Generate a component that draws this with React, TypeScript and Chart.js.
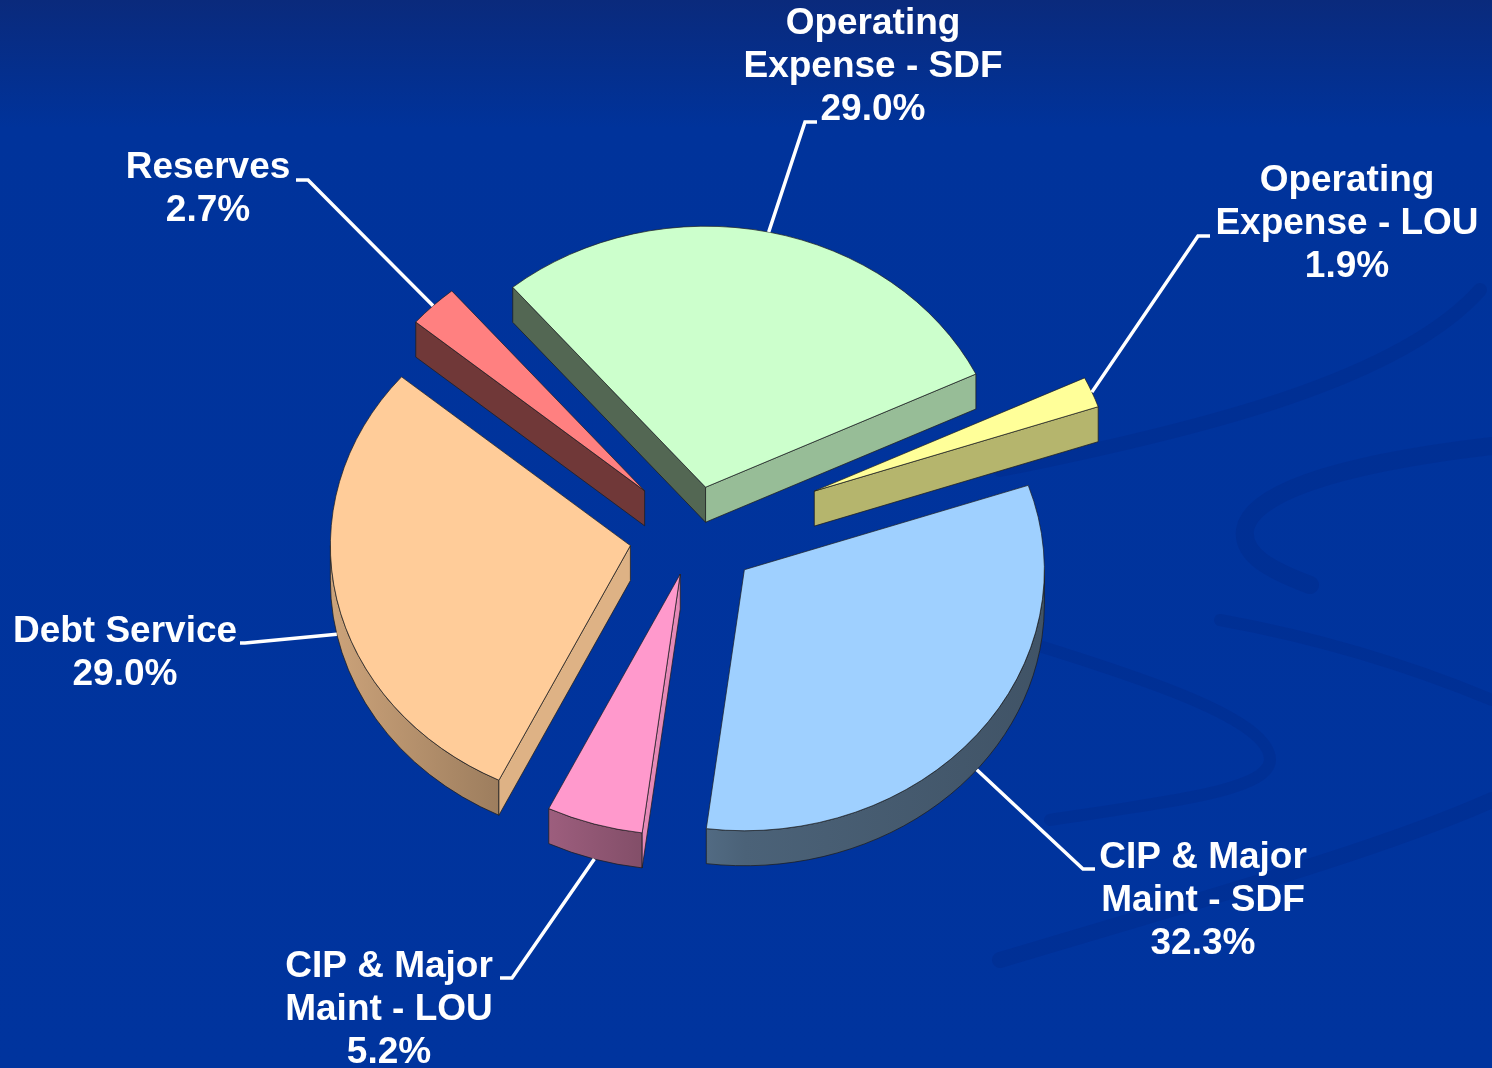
import React, { useEffect, useRef } from "react";
import { Chart, registerables } from "chart.js";

Chart.register(...registerables);

// ---------- data ----------
const categories = [
  "Operating Expense - SDF",
  "Operating Expense - LOU",
  "CIP & Major Maint - SDF",
  "CIP & Major Maint - LOU",
  "Debt Service",
  "Reserves",
];
const categoryLines = [
  ["Operating", "Expense - SDF"],
  ["Operating", "Expense - LOU"],
  ["CIP & Major", "Maint - SDF"],
  ["CIP & Major", "Maint - LOU"],
  ["Debt Service"],
  ["Reserves"],
];
const shares = [29.0, 1.9, 32.3, 5.2, 29.0, 2.7];
const sliceColors = ["#CCFFCC", "#FFFF99", "#9FD0FF", "#FF99CC", "#FFCC99", "#FF8080"];

// ---------- layout / style ----------
const WIDTH = 1492;
const HEIGHT = 1068;
const TILT = 0.87;
const DEPTH = 35;
const RADIUS = 300;
const ROTATION = -40;
const explode = [55, 130, 65, 48, 65, 70];
const LINE_H = 43;
const FONT = 'bold 37px "Liberation Sans", Arial, sans-serif';
const labelLayout = [
  { cx: 873, y: 24, elbow: [805, 122], end: [817, 122], fromSide: false },
  { cx: 1347, y: 181, elbow: [1198, 236], end: [1210, 236], fromSide: false },
  { cx: 1203, y: 858, elbow: [1083, 869], end: [1095, 869], fromSide: true },
  { cx: 389, y: 967, elbow: [512, 978], end: [500, 978], fromSide: true },
  { cx: 125, y: 632, elbow: [245, 643], end: [240, 643], fromSide: true },
  { cx: 208, y: 168, elbow: [308, 180], end: [296, 180], fromSide: false },
];

function hexToRgb(h: string) {
  const n = parseInt(h.slice(1), 16);
  return [(n >> 16) & 255, (n >> 8) & 255, n & 255];
}
function shade(hex: string, b: number) {
  const [r, g, bl] = hexToRgb(hex);
  const f = (v: number) => Math.max(0, Math.min(255, Math.round(v * b)));
  return `rgb(${f(r)},${f(g)},${f(bl)})`;
}

const pie3d = {
  id: "pie3d",
  beforeDraw(chart: any) {
    const ctx = chart.ctx as CanvasRenderingContext2D;
    ctx.save();
    const g = ctx.createLinearGradient(0, 0, 0, HEIGHT);
    g.addColorStop(0, "#0a2a7c");
    g.addColorStop(0.12, "#00339b");
    g.addColorStop(1, "#00349e");
    ctx.fillStyle = g;
    ctx.fillRect(0, 0, WIDTH, HEIGHT);
    // faint background swirls
    ctx.strokeStyle = "rgba(0,25,100,0.13)";
    ctx.lineCap = "round";
    ctx.lineWidth = 14;
    ctx.beginPath();
    ctx.moveTo(1000, 470);
    ctx.bezierCurveTo(1200, 430, 1400, 380, 1480, 290);
    ctx.stroke();
    ctx.lineWidth = 18;
    ctx.beginPath();
    ctx.moveTo(1492, 446);
    ctx.bezierCurveTo(1330, 465, 1250, 495, 1245, 530);
    ctx.bezierCurveTo(1242, 555, 1270, 570, 1310, 585);
    ctx.stroke();
    ctx.lineWidth = 12;
    ctx.beginPath();
    ctx.moveTo(1020, 640);
    ctx.bezierCurveTo(1150, 680, 1270, 720, 1270, 760);
    ctx.bezierCurveTo(1268, 790, 1180, 800, 1050, 820);
    ctx.stroke();
    ctx.beginPath();
    ctx.moveTo(1220, 620);
    ctx.bezierCurveTo(1330, 640, 1420, 670, 1492, 700);
    ctx.stroke();
    ctx.lineWidth = 16;
    ctx.beginPath();
    ctx.moveTo(1000, 960);
    ctx.bezierCurveTo(1200, 900, 1380, 850, 1492, 800);
    ctx.stroke();
    ctx.restore();
  },
  beforeDatasetsDraw(chart: any) {
    const ctx = chart.ctx as CanvasRenderingContext2D;
    const arcs = chart.getDatasetMeta(0).data as any[];
    const mid = (a: any) => (a.startAngle + a.endAngle) / 2;
    const order = arcs.map((_, i) => i).sort((a, b) => Math.sin(mid(arcs[a])) - Math.sin(mid(arcs[b])));
    const edge = "rgba(30,30,30,0.75)";

    for (const i of order) {
      const a = arcs[i];
      const { x: cx, y: cy, startAngle: s, endAngle: e, outerRadius: R } = a;
      const m = (s + e) / 2;
      const ex = explode[i] * Math.cos(m);
      const ey = explode[i] * Math.sin(m);
      const ox = cx + ex;
      const oy = cy + TILT * ey;
      const P = (t: number, dz: number) => [ox + R * Math.cos(t), oy + TILT * R * Math.sin(t) + dz];
      const col = sliceColors[i];
      ctx.save();
      ctx.lineWidth = 1;
      ctx.strokeStyle = edge;
      ctx.lineJoin = "round";
      // outer curved face (front half only)
      for (let n = -2; n <= 2; n++) {
        const lo = Math.max(s, 2 * Math.PI * n);
        const hi = Math.min(e, 2 * Math.PI * n + Math.PI);
        if (hi > lo) {
          const g = ctx.createLinearGradient(ox - R, 0, ox + R, 0);
          g.addColorStop(0, shade(col, 0.8));
          g.addColorStop(0.5, shade(col, 0.47));
          g.addColorStop(1, shade(col, 0.4));
          ctx.beginPath();
          ctx.ellipse(ox, oy, R, TILT * R, 0, lo, hi, false);
          ctx.ellipse(ox, oy + DEPTH, R, TILT * R, 0, hi, lo, true);
          ctx.closePath();
          ctx.fillStyle = g;
          ctx.fill();
          ctx.stroke();
        }
      }
      // radial faces
      const face = (t: number, normal: number) => {
        const [x1, y1] = P(t, 0);
        const [x2, y2] = P(t, DEPTH);
        ctx.beginPath();
        ctx.moveTo(ox, oy);
        ctx.lineTo(x1, y1);
        ctx.lineTo(x2, y2);
        ctx.lineTo(ox, oy + DEPTH);
        ctx.closePath();
        ctx.fillStyle = shade(col, 0.62 + 0.28 * Math.cos(normal));
        ctx.fill();
        ctx.stroke();
      };
      if (Math.cos(s) < 0) face(s, s - Math.PI / 2);
      if (Math.cos(e) > 0) face(e, e + Math.PI / 2);
      // top face, drawn by the arc element itself
      ctx.translate(cx, cy);
      ctx.scale(1, TILT);
      ctx.translate(-cx, -cy);
      ctx.translate(ex, ey);
      a.draw(ctx);
      ctx.restore();
    }

    // labels + leader lines
    ctx.save();
    ctx.font = FONT;
    ctx.fillStyle = "#ffffff";
    ctx.strokeStyle = "#ffffff";
    ctx.lineWidth = 3.5;
    ctx.lineJoin = "miter";
    ctx.textAlign = "center";
    ctx.textBaseline = "middle";
    arcs.forEach((a: any, i: number) => {
      const L = labelLayout[i];
      const m = mid(a);
      const ox = a.x + explode[i] * Math.cos(m);
      const oy = a.y + TILT * explode[i] * Math.sin(m);
      const sx = ox + a.outerRadius * Math.cos(m);
      const sy = oy + TILT * a.outerRadius * Math.sin(m) + (L.fromSide ? DEPTH : 0);
      ctx.beginPath();
      ctx.moveTo(sx, sy);
      ctx.lineTo(L.elbow[0], L.elbow[1]);
      ctx.lineTo(L.end[0], L.end[1]);
      ctx.stroke();
      const lines = [...categoryLines[i], `${shares[i].toFixed(1)}%`];
      lines.forEach((t, k) => ctx.fillText(t, L.cx, L.y + k * LINE_H));
    });
    ctx.restore();
    return false;
  },
};

export default function App() {
  const ref = useRef<HTMLCanvasElement>(null);
  useEffect(() => {
    document.body.style.margin = "0";
    const chart = new Chart(ref.current as HTMLCanvasElement, {
      type: "pie",
      data: {
        labels: categories,
        datasets: [
          {
            data: shares,
            backgroundColor: sliceColors,
            borderColor: "rgba(30,30,30,0.75)",
            borderWidth: 1,
            offset: 0,
          },
        ],
      },
      options: {
        responsive: false,
        maintainAspectRatio: false,
        animation: false,
        devicePixelRatio: 1,
        rotation: ROTATION,
        radius: RADIUS,
        layout: { padding: { left: 0, right: 104, top: 0, bottom: 0 } },
        plugins: { legend: { display: false }, tooltip: { enabled: false } },
        events: [],
      } as any,
      plugins: [pie3d as any],
    });
    return () => chart.destroy();
  }, []);
  return (
    <div style={{ position: "fixed", left: 0, top: 0, width: WIDTH, height: HEIGHT }}>
      <canvas ref={ref} width={WIDTH} height={HEIGHT} style={{ display: "block", width: WIDTH, height: HEIGHT }} />
    </div>
  );
}
